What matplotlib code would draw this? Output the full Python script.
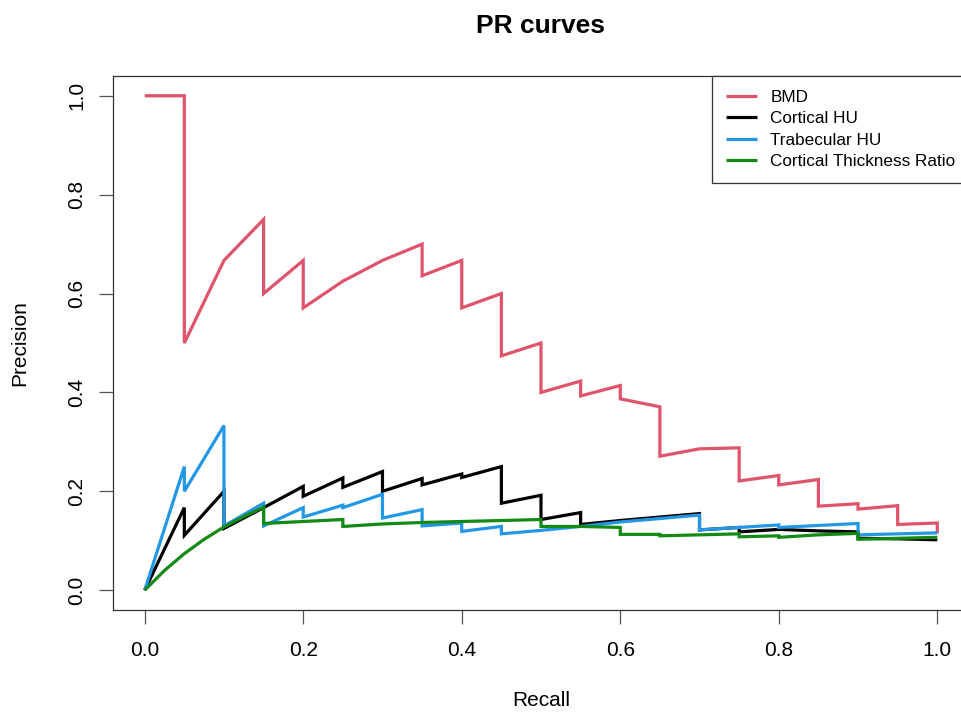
import matplotlib
matplotlib.use("Agg")
import matplotlib.pyplot as plt

plt.rcParams['font.family'] = ['Liberation Sans', 'DejaVu Sans']

# Datos (recall, precision)
bmd_recall = [0, 0.05, 0.05, 0.1, 0.15, 0.15, 0.2, 0.2, 0.25, 0.3, 0.35, 0.35,
              0.4, 0.4, 0.45, 0.45, 0.5, 0.5, 0.55, 0.55, 0.6, 0.6, 0.65, 0.65,
              0.7, 0.75, 0.75, 0.8, 0.8, 0.85, 0.85, 0.9, 0.9, 0.95, 0.95, 1.0, 1.0]
bmd_precision = [1.0, 1.0, 0.5, 0.667, 0.75, 0.6, 0.667, 0.571, 0.625, 0.667, 0.7, 0.636,
                 0.667, 0.571, 0.6, 0.474, 0.5, 0.4, 0.423, 0.393, 0.414, 0.387, 0.371, 0.271,
                 0.286, 0.288, 0.221, 0.232, 0.213, 0.224, 0.17, 0.175, 0.164, 0.171, 0.133, 0.136, 0.115]

cort_recall = [0, 0.05, 0.05, 0.1, 0.1, 0.15, 0.2, 0.2, 0.25, 0.25, 0.3, 0.3,
               0.35, 0.35, 0.4, 0.4, 0.45, 0.45, 0.5, 0.5, 0.55, 0.55, 0.6, 0.65,
               0.7, 0.7, 0.75, 0.75, 0.8, 0.85, 0.9, 0.9, 0.95, 1.0]
cort_precision = [0, 0.167, 0.111, 0.2, 0.125, 0.167, 0.21, 0.19, 0.227, 0.208, 0.24, 0.2,
                  0.226, 0.213, 0.235, 0.228, 0.25, 0.176, 0.192, 0.143, 0.157, 0.133, 0.141, 0.148,
                  0.155, 0.122, 0.127, 0.118, 0.123, 0.12, 0.118, 0.105, 0.104, 0.102]

trab_recall = [0, 0.05, 0.05, 0.1, 0.1, 0.15, 0.15, 0.2, 0.2, 0.25, 0.25, 0.3, 0.3,
               0.35, 0.35, 0.4, 0.4, 0.45, 0.45, 0.5, 0.55, 0.6, 0.65, 0.7, 0.7,
               0.75, 0.8, 0.8, 0.85, 0.9, 0.9, 0.95, 1.0]
trab_precision = [0, 0.25, 0.2, 0.333, 0.13, 0.176, 0.13, 0.167, 0.148, 0.172, 0.167, 0.194, 0.146,
                  0.163, 0.13, 0.136, 0.119, 0.129, 0.114, 0.121, 0.129, 0.138, 0.145, 0.152, 0.122,
                  0.127, 0.132, 0.127, 0.131, 0.135, 0.112, 0.114, 0.116]

ctr_recall = [0, 0.025, 0.05, 0.075, 0.1, 0.125, 0.15, 0.15, 0.2, 0.25, 0.25, 0.3,
              0.35, 0.4, 0.45, 0.5, 0.5, 0.55, 0.6, 0.6, 0.65, 0.65, 0.7, 0.75,
              0.75, 0.8, 0.8, 0.85, 0.9, 0.9, 0.95, 1.0]
ctr_precision = [0, 0.04, 0.074, 0.103, 0.128, 0.149, 0.168, 0.135, 0.139, 0.143, 0.129, 0.134,
                 0.137, 0.139, 0.141, 0.143, 0.129, 0.129, 0.127, 0.113, 0.113, 0.11, 0.112, 0.114,
                 0.108, 0.11, 0.107, 0.112, 0.115, 0.103, 0.105, 0.107]

series_names = ["BMD", "Cortical HU", "Trabecular HU", "Cortical Thickness Ratio"]
series_colors = ["#DF536B", "#000000", "#2297E6", "#138A13"]

W, H = 962, 714
fig = plt.figure(figsize=(W / 100, H / 100), dpi=100)
# el marco derecho queda fuera de la imagen, como en la original
left, right, top, bottom = 113, 969, 76, 610
ax = fig.add_axes([left / W, 1 - bottom / H, (right - left) / W, (bottom - top) / H])

datos = [(bmd_recall, bmd_precision), (cort_recall, cort_precision),
         (trab_recall, trab_precision), (ctr_recall, ctr_precision)]
for (r, p), name, col in zip(datos, series_names, series_colors):
    ax.plot(r, p, color=col, lw=2.3, label=name,
            solid_joinstyle='miter', solid_capstyle='butt')

ax.set_xlim(-0.04, 1.04)
ax.set_ylim(-0.04, 1.04)
ticks = [0.0, 0.2, 0.4, 0.6, 0.8, 1.0]
ax.set_xticks(ticks)
ax.set_yticks(ticks)
ax.set_xticklabels([f"{t:.1f}" for t in ticks])
ax.set_yticklabels([f"{t:.1f}" for t in ticks], rotation=90, va='center')
ax.tick_params(direction='out', length=10, width=0.9, color='#555555',
               labelsize=15)
ax.tick_params(axis='x', pad=12)
ax.tick_params(axis='y', pad=9)
for s in ax.spines.values():
    s.set_linewidth(0.9)
    s.set_color('#333333')

ax.set_xlabel("Recall", fontsize=15)
ax.set_ylabel("Precision", fontsize=15)
ax.xaxis.set_label_coords(0.5, -(700 - bottom) / (bottom - top))
ax.yaxis.set_label_coords(-(left - 20) / (right - left), 0.5)
ax.xaxis.label.set_va('center')
ax.yaxis.label.set_va('center')

fig.text(0.5 * (left + right) / W, 1 - 26 / H, "PR curves",
         fontsize=19, fontweight='bold', ha='center', va='center')

leg = ax.legend(loc='upper right', borderaxespad=0, fontsize=12.3,
                fancybox=False, framealpha=1, edgecolor='#333333',
                handlelength=1.8, handletextpad=0.8, labelspacing=0.38,
                borderpad=0.8)
leg.get_frame().set_linewidth(0.9)
for h in leg.get_lines():
    h.set_linewidth(2.3)

fig.savefig("out.png", dpi=100)
